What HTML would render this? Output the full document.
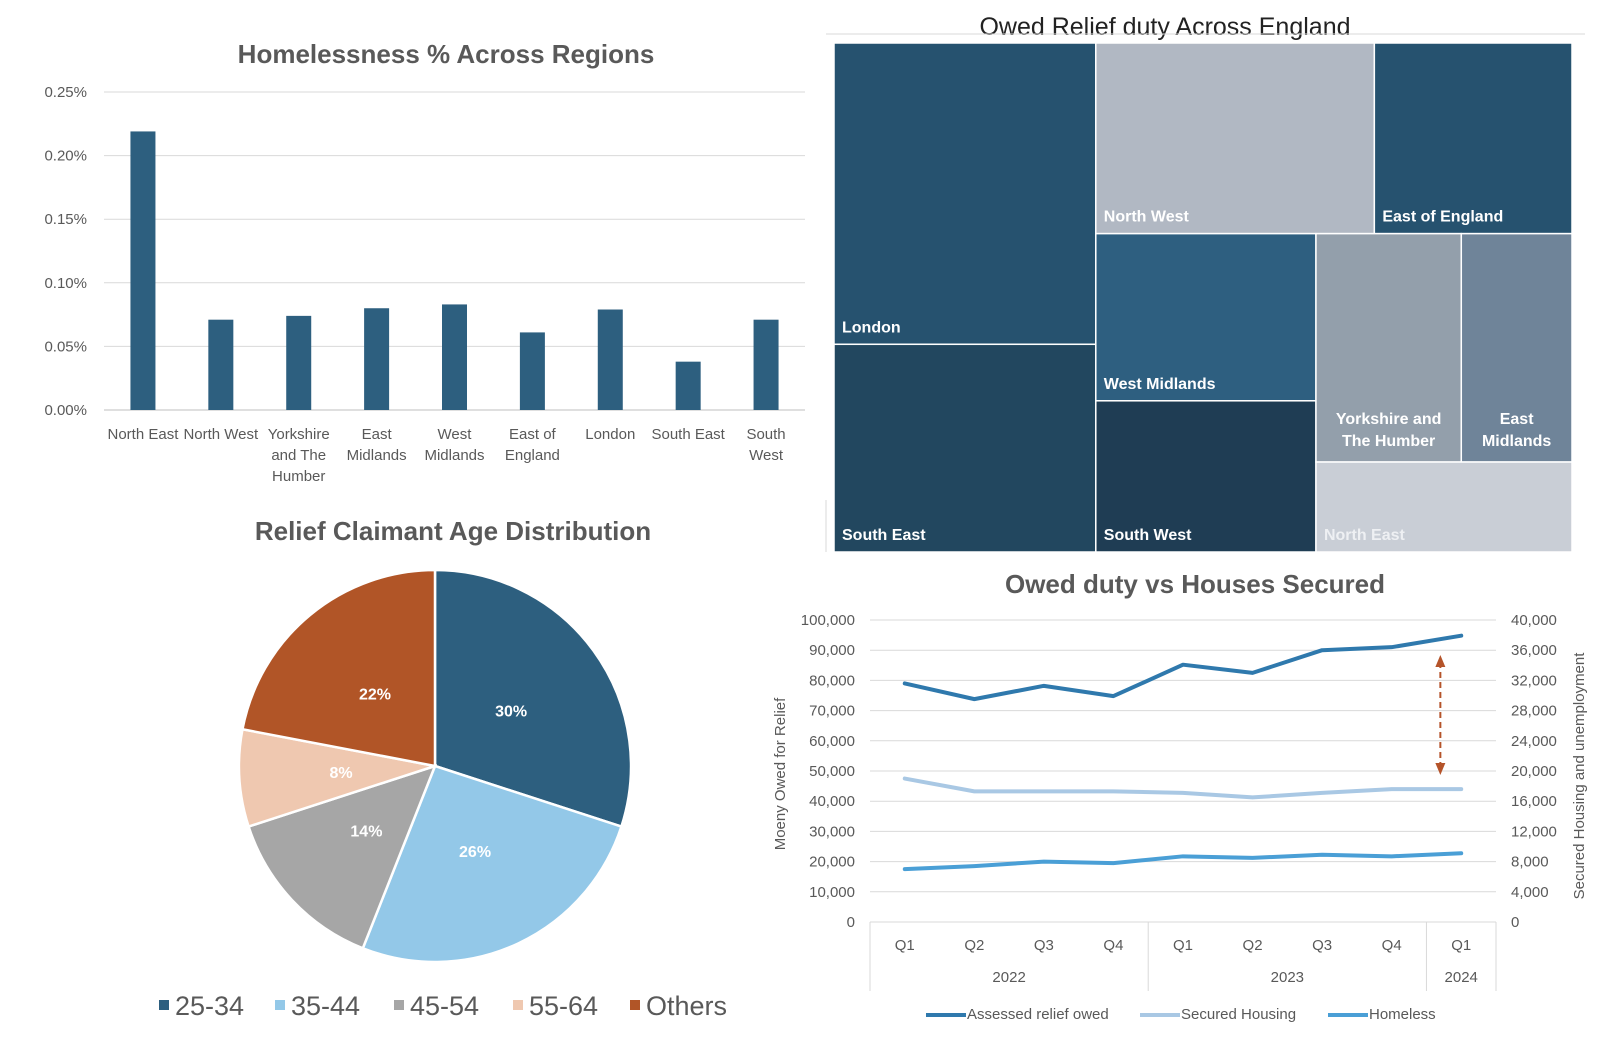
<!DOCTYPE html>
<html><head><meta charset="utf-8">
<style>
html,body{margin:0;padding:0;background:#fff;}
svg{display:block;font-family:"Liberation Sans Narrow","Liberation Sans",sans-serif;}
.t{font-weight:bold;fill:#595959;font-size:26px;}
.tk{fill:#595959;font-size:15px;}
</style></head>
<body>
<svg id="s" width="1606" height="1058" viewBox="0 0 1606 1058" xmlns="http://www.w3.org/2000/svg">
<text class="t" x="446" y="63" text-anchor="middle">Homelessness % Across Regions</text>
<g id="bar"></g>
<text class="t" x="1165" y="35" text-anchor="middle" style="font-weight:normal;fill:#222;font-size:25px">Owed Relief duty Across England</text>
<g id="tree"></g>
<text class="t" x="453" y="540" text-anchor="middle">Relief Claimant Age Distribution</text>
<g id="pie"></g>
<text class="t" x="1195" y="593" text-anchor="middle">Owed duty vs Houses Secured</text>
<g id="line"></g>
</svg>
<script>
const NS='http://www.w3.org/2000/svg';
function mk(p,tag,a,txt){const e=document.createElementNS(NS,tag);for(const k in a)e.setAttribute(k,a[k]);if(txt!==undefined)e.textContent=txt;p.appendChild(e);return e;}

// ---------- Bar chart data ----------
const barCategories=[["North East"],["North West"],["Yorkshire","and The","Humber"],["East","Midlands"],["West","Midlands"],["East of","England"],["London"],["South East"],["South","West"]];
const barValues=[0.219,0.071,0.074,0.080,0.083,0.061,0.079,0.038,0.071];
const barTicks=[0,0.05,0.10,0.15,0.20,0.25];
const barTickLabels=["0.00%","0.05%","0.10%","0.15%","0.20%","0.25%"];

// ---------- Treemap data ----------
const treeNames=["London","South East","North West","East of England","West Midlands","South West","Yorkshire and The Humber","East Midlands","North East"];
const treeValues=[80800,55700,54400,38600,37700,34100,34000,25900,23600];
const treeColors=["#26526f","#22475f","#b1b8c3","#26526f","#2e5f80","#1f3d54","#939fab","#6f8499","#c9ced6"];

// ---------- Pie data ----------
const pieLabels=["25-34","35-44","45-54","55-64","Others"];
const pieValues=[30,26,14,8,22];
const pieColors=["#2d5f7f","#93c8e8","#a6a6a6","#efc8b0","#b15527"];

// ---------- Line chart data ----------
const lineQuarters=["Q1","Q2","Q3","Q4","Q1","Q2","Q3","Q4","Q1"];
const lineYears=["2022","2023","2024"];
const lineYearSpans=[4,4,1];
const assessedOwed=[79000,73800,78200,74800,85200,82500,90000,91000,94800];
const securedHousing=[19000,17300,17300,17300,17100,16500,17100,17600,17600];
const homeless=[7000,7400,8000,7800,8700,8500,8900,8700,9100];
const leftTicks=[0,10000,20000,30000,40000,50000,60000,70000,80000,90000,100000];
const rightTicks=[0,4000,8000,12000,16000,20000,24000,28000,32000,36000,40000];

// ===== Bar chart =====
(function(){
 const g=document.getElementById('bar');
 const x0=104,x1=805,y0=410,yTop=92,maxV=0.25;
 const ys=v=>y0-(v/maxV)*(y0-yTop);
 const step=(x1-x0)/barValues.length;
 barTicks.forEach((t,i)=>{
  const l=mk(g,'line',{x1:x0,x2:x1,y1:ys(t),y2:ys(t),stroke:i?'#d9d9d9':'#bfbfbf','stroke-width':1});
  
  
  const tx=mk(g,'text',{x:87,y:ys(t)+5,'text-anchor':'end',class:'tk'},barTickLabels[i]);
  
  
 });
 barValues.forEach((v,i)=>{
  const cx=x0+step*(i+0.5);
  const r=mk(g,'rect',{x:cx-12.5,y:ys(v),width:25,height:y0-ys(v),fill:'#2d5f7f'});
  
  
  barCategories[i].forEach((ln,j)=>{
   const t=mk(g,'text',{x:cx,y:439+j*21,'text-anchor':'middle',class:'tk'},ln);
   
   
  });
 });
})();

// ===== Treemap (squarified) =====
(function(){
 const g=document.getElementById('tree');
 const f1=mk(g,'line',{x1:826,x2:1585,y1:34,y2:34,stroke:'#d9d9d9'});
 
 
 const f2=mk(g,'line',{x1:826,x2:826,y1:500,y2:552,stroke:'#d9d9d9'});
 
 
 let X=834,Y=43,W=738,H=509;
 const total=treeValues.reduce((a,b)=>a+b,0);
 const scale=W*H/total;
 const areas=treeValues.map(v=>v*scale);
 const rects=[];
 function worst(row,side){const s=row.reduce((a,b)=>a+b,0);let w=0;row.forEach(a=>{const len=a/(s/side);const th=s/side;w=Math.max(w,Math.max(len/th,th/len));});return w;}
 let i=0;
 while(i<areas.length){
  const side=Math.min(W,H);
  let row=[areas[i]];let j=i+1;
  while(j<areas.length){const nr=row.concat(areas[j]);if(worst(nr,side)<=worst(row,side)*1.1){row=nr;j++;}else break;}
  const s=row.reduce((a,b)=>a+b,0);const th=s/side;
  let off=0;
  row.forEach((a,k)=>{const len=a/th;
   if(W>=H){rects.push([X,Y+off,th,len]);}else{rects.push([X+off,Y,len,th]);}
   off+=len;});
  if(W>=H){X+=th;W-=th;}else{Y+=th;H-=th;}
  i=j;
 }
 rects.forEach((r,k)=>{
  const e=mk(g,'rect',{x:r[0],y:r[1],width:r[2],height:r[3],fill:treeColors[k],stroke:'#fff','stroke-width':1.5});
  
  
  const col=k===8?'#eef0f3':'#fff';
  const narrow=r[2]<160;
  let lines=[treeNames[k]];
  if(narrow&&treeNames[k].indexOf(' ')>0){const p=treeNames[k].split(' ');lines=p.length>2?[p[0]+' '+p[1],p.slice(2).join(' ')]:[p[0],p[1]];}
  lines.forEach((ln,j)=>{
   const ty=narrow?r[1]+r[3]-38+j*22:r[1]+r[3]-12;
   const t=mk(g,'text',{x:narrow?r[0]+r[2]/2:r[0]+8,y:ty,'text-anchor':narrow?'middle':'start',fill:col,'font-size':16,'font-weight':'bold'},ln);
   
   
  });
 });
})();

// ===== Pie =====
(function(){
 const g=document.getElementById('pie');
 const cx=435,cy=766,R=196;
 const tot=pieValues.reduce((a,b)=>a+b,0);
 let a0=-Math.PI/2;
 pieValues.forEach((v,i)=>{
  const a1=a0+v/tot*2*Math.PI;
  const large=(a1-a0)>Math.PI?1:0;
  const p=`M${cx},${cy} L${cx+R*Math.cos(a0)},${cy+R*Math.sin(a0)} A${R},${R} 0 ${large} 1 ${cx+R*Math.cos(a1)},${cy+R*Math.sin(a1)} Z`;
  const e=mk(g,'path',{d:p,fill:pieColors[i],stroke:'#fff','stroke-width':2.5});
  
  
  const am=(a0+a1)/2;const rr=R*0.48;
  const t=mk(g,'text',{x:cx+rr*Math.cos(am),y:cy+rr*Math.sin(am)+6,'text-anchor':'middle',fill:'#fff','font-size':16,'font-weight':'bold'},v+'%');
  
  
  a0=a1;
 });
 const lx=[159,275,394,513,630];
 pieLabels.forEach((l,i)=>{
  const m=mk(g,'rect',{x:lx[i],y:1000,width:10,height:10,fill:pieColors[i]});
  
  
  const t=mk(g,'text',{x:lx[i]+16,y:1015,fill:'#595959','font-size':27},l);
  
  
 });
})();

// ===== Line chart =====
(function(){
 const g=document.getElementById('line');
 const x0=870,x1=1496,y0=922,yT=620;
 const yl=v=>y0-v/100000*(y0-yT);
 const yr=v=>y0-v/40000*(y0-yT);
 const step=(x1-x0)/lineQuarters.length;
 const xc=i=>x0+step*(i+0.5);
 leftTicks.forEach((t,i)=>{
  const l=mk(g,'line',{x1:x0,x2:x1,y1:yl(t),y2:yl(t),stroke:'#d9d9d9'});
  
  
  const a=mk(g,'text',{x:855,y:yl(t)+5,'text-anchor':'end',class:'tk'},t.toLocaleString('en-US'));
  
  
  const b=mk(g,'text',{x:1511,y:yr(rightTicks[i])+5,class:'tk'},rightTicks[i].toLocaleString('en-US'));
  
  
 });
 const bx=[x0];let c=0;lineYearSpans.forEach(s=>{c+=s;bx.push(x0+step*c);});
 bx.forEach(x=>{const l=mk(g,'line',{x1:x,x2:x,y1:y0,y2:991,stroke:'#d9d9d9'});
  
  });
 lineQuarters.forEach((q,i)=>{const t=mk(g,'text',{x:xc(i),y:950,'text-anchor':'middle',class:'tk'},q);
  
  });
 lineYears.forEach((yv,i)=>{const t=mk(g,'text',{x:(bx[i]+bx[i+1])/2,y:982,'text-anchor':'middle',class:'tk'},yv);
  
  });
 const series=[[assessedOwed,yl,'#2f79ad','assessed-relief-owed-line'],[securedHousing,yr,'#a9c8e4','secured-housing-line'],[homeless,yr,'#4a9fd6','homeless-line']];
 series.forEach(s=>{
  const pts=s[0].map((v,i)=>xc(i)+','+s[1](v)).join(' ');
  const p=mk(g,'polyline',{points:pts,fill:'none',stroke:s[2],'stroke-width':4,'stroke-linejoin':'round','stroke-linecap':'round'});
  
  
 });
 const ax=xc(7)+step*0.7;
 const ar=mk(g,'line',{x1:ax,x2:ax,y1:662,y2:768,stroke:'#b5542a','stroke-width':2,'stroke-dasharray':'6,4'});
 
 
 const h1=mk(g,'path',{d:`M${ax-5},${667} L${ax},${655} L${ax+5},${667} Z`,fill:'#b5542a'});
 
 
 const h2=mk(g,'path',{d:`M${ax-5},${763} L${ax},${775} L${ax+5},${763} Z`,fill:'#b5542a'});
 
 
 const lt=mk(g,'text',{transform:'translate(785,774) rotate(-90)','text-anchor':'middle',fill:'#595959','font-size':15,'font-family':'Liberation Sans'},'Moeny Owed for Relief');
 
 
 const rt=mk(g,'text',{transform:'translate(1584,776) rotate(-90)','text-anchor':'middle',fill:'#595959','font-size':15,'font-family':'Liberation Sans'},'Secured Housing and  unemployment');
 
 
 const lg=[[926,'#2f79ad','Assessed relief owed'],[1140,'#a9c8e4','Secured Housing'],[1328,'#4a9fd6','Homeless']];
 lg.forEach(l=>{
  const m=mk(g,'line',{x1:l[0],x2:l[0]+40,y1:1015,y2:1015,stroke:l[1],'stroke-width':4});
  
  
  const t=mk(g,'text',{x:l[0]+41,y:1019,class:'tk'},l[2]);
  
  
 });
})();
</script>
</body></html>
